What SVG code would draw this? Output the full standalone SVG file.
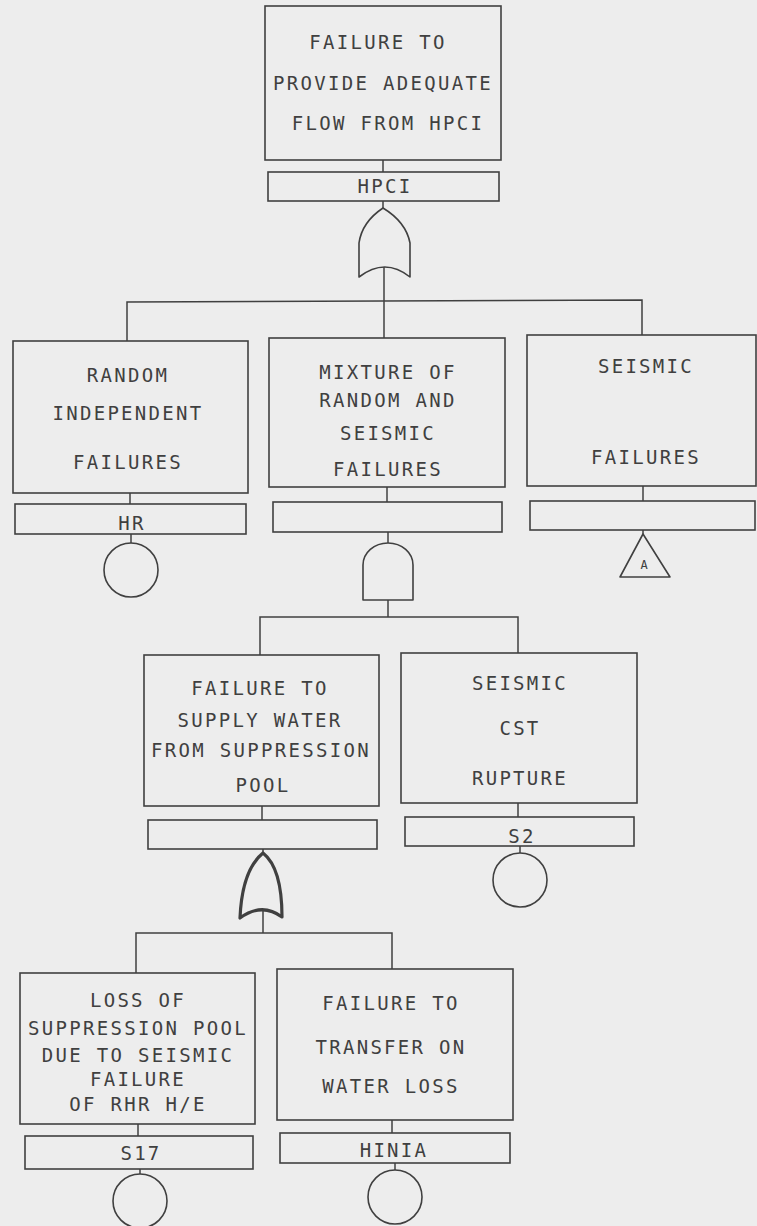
<svg xmlns="http://www.w3.org/2000/svg" width="757" height="1226" viewBox="0 0 757 1226">
<style>
.box{fill:none;stroke:#404040;stroke-width:1.6}
.lbl{fill:none;stroke:#404040;stroke-width:1.6}
.t{font-family:"DejaVu Sans Mono","Liberation Mono",monospace;font-size:19px;letter-spacing:2.3px;fill:#404040;text-anchor:middle}
.s{font-family:"DejaVu Sans Mono","Liberation Mono",monospace;font-size:12px;fill:#404040;text-anchor:middle}
.c{fill:none;stroke:#404040;stroke-width:1.5}
.g{fill:none;stroke:#404040;stroke-width:1.6;stroke-linejoin:round}
</style>
<rect x="0" y="0" width="757" height="1226" fill="#ededed"/>

<g id="connectors" class="c">
<line x1="383" y1="160" x2="383" y2="172"/>
<line x1="383" y1="201" x2="383" y2="208"/>
<line x1="384" y1="267" x2="384" y2="301"/>
<polyline points="127,341 127,302 642,300 642,335"/>
<line x1="384" y1="301" x2="384" y2="338"/>
<line x1="130" y1="493" x2="130" y2="504"/>
<line x1="131" y1="534" x2="131" y2="543"/>
<line x1="387" y1="487" x2="387" y2="502"/>
<line x1="388" y1="532" x2="388" y2="543"/>
<line x1="643" y1="486" x2="643" y2="501"/>
<line x1="643" y1="530" x2="643" y2="534"/>
<line x1="388" y1="600" x2="388" y2="617"/>
<polyline points="260,655 260,617 518,617 518,653"/>
<line x1="262" y1="806" x2="262" y2="820"/>
<line x1="263" y1="849" x2="263" y2="853"/>
<line x1="518" y1="803" x2="518" y2="817"/>
<line x1="520" y1="846" x2="520" y2="853"/>
<line x1="263" y1="910" x2="263" y2="933"/>
<polyline points="136,973 136,933 392,933 392,969"/>
<line x1="138" y1="1124" x2="138" y2="1136"/>
<line x1="140" y1="1169" x2="140" y2="1174"/>
<line x1="392" y1="1120" x2="392" y2="1133"/>
<line x1="395" y1="1163" x2="395" y2="1170"/>
</g>

<g id="top">
<rect class="box" x="265" y="6" width="236" height="154"/>
<text class="t" x="378" y="48.5">FAILURE TO</text>
<text class="t" x="383" y="89.5">PROVIDE ADEQUATE</text>
<text class="t" x="388" y="129.5">FLOW FROM HPCI</text>
<rect class="lbl" x="268" y="172" width="231" height="29"/>
<text class="t" x="385" y="193">HPCI</text>
</g>
<g id="gate-or-top">
<path class="g" d="M359 277 L359 243 Q362 222 383 208 Q406 222 410 243 L410 277 Q385 257 359 277 Z"/>
</g>

<g id="random">
<rect class="box" x="13" y="341" width="235" height="152"/>
<text class="t" x="128" y="381.5">RANDOM</text>
<text class="t" x="128" y="419.5">INDEPENDENT</text>
<text class="t" x="128" y="468.5">FAILURES</text>
<rect class="lbl" x="15" y="504" width="231" height="30"/>
<text class="t" x="132" y="529.5">HR</text>
<circle class="g" cx="131" cy="570" r="27"/>
</g>

<g id="mixture">
<rect class="box" x="269" y="338" width="236" height="149"/>
<text class="t" x="388" y="378.5">MIXTURE OF</text>
<text class="t" x="388" y="406.5">RANDOM AND</text>
<text class="t" x="388" y="439.5">SEISMIC</text>
<text class="t" x="388" y="475.5">FAILURES</text>
<rect class="lbl" x="273" y="502" width="229" height="30"/>
</g>
<g id="gate-and">
<path class="g" d="M363 600 L363 565 A25 22 0 0 1 413 565 L413 600 Z"/>
</g>

<g id="seismic">
<rect class="box" x="527" y="335" width="229" height="151"/>
<text class="t" x="646" y="372.5">SEISMIC</text>
<text class="t" x="646" y="463.5">FAILURES</text>
<rect class="lbl" x="530" y="501" width="225" height="29"/>
<polygon class="g" points="643,534 620,577 670,577"/>
<text class="s" x="644" y="569">A</text>
</g>

<g id="supply">
<rect class="box" x="144" y="655" width="235" height="151"/>
<text class="t" x="260" y="694.5">FAILURE TO</text>
<text class="t" x="260" y="726.5">SUPPLY WATER</text>
<text class="t" x="261" y="756.5">FROM SUPPRESSION</text>
<text class="t" x="263" y="791.5">POOL</text>
<rect class="lbl" x="148" y="820" width="229" height="29"/>
</g>
<g id="gate-or-bold">
<path class="g" style="stroke-width:3.2" d="M240 918 Q242 870 263 853 Q282 868 282 917 Q262 902 240 918 Z"/>
</g>

<g id="cst">
<rect class="box" x="401" y="653" width="236" height="150"/>
<text class="t" x="520" y="689.5">SEISMIC</text>
<text class="t" x="520" y="734.5">CST</text>
<text class="t" x="520" y="784.5">RUPTURE</text>
<rect class="lbl" x="405" y="817" width="229" height="29"/>
<text class="t" x="522" y="843">S2</text>
<circle class="g" cx="520" cy="880" r="27"/>
</g>

<g id="loss">
<rect class="box" x="20" y="973" width="235" height="151"/>
<text class="t" x="138" y="1006.5">LOSS OF</text>
<text class="t" x="138" y="1034.5">SUPPRESSION POOL</text>
<text class="t" x="138" y="1061.5">DUE TO SEISMIC</text>
<text class="t" x="138" y="1085.5">FAILURE</text>
<text class="t" x="138" y="1110.5">OF RHR H/E</text>
<rect class="lbl" x="25" y="1136" width="228" height="33"/>
<text class="t" x="141" y="1160">S17</text>
<circle class="g" cx="140" cy="1201" r="27"/>
</g>

<g id="transfer">
<rect class="box" x="277" y="969" width="236" height="151"/>
<text class="t" x="391" y="1009.5">FAILURE TO</text>
<text class="t" x="391" y="1053.5">TRANSFER ON</text>
<text class="t" x="391" y="1092.5">WATER LOSS</text>
<rect class="lbl" x="280" y="1133" width="230" height="30"/>
<text class="t" x="394" y="1157">HINIA</text>
<circle class="g" cx="395" cy="1197" r="27"/>
</g>
</svg>
